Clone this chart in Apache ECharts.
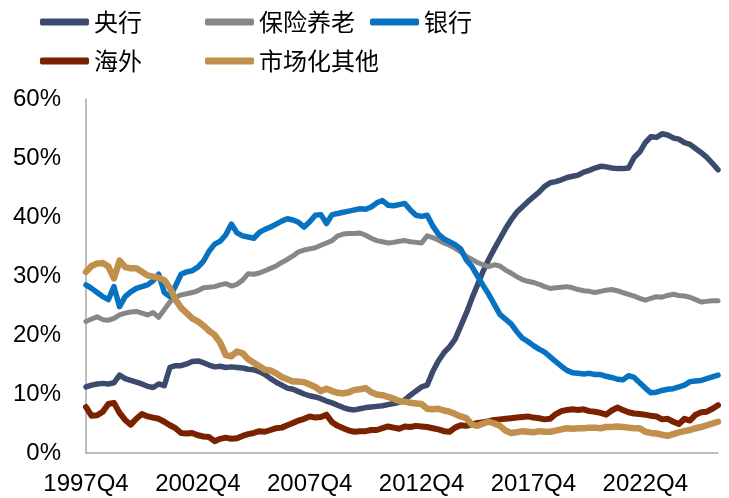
<!DOCTYPE html>
<html>
<head>
<meta charset="utf-8">
<title>持有结构</title>
<script src="https://cdn.jsdelivr.net/npm/echarts@6.0.0/dist/echarts.min.js"></script>
<style>
  html, body { margin: 0; padding: 0; background: #fff; }
  #chart { width: 729px; height: 498px; }
</style>
</head>
<body>
<div id="chart"></div>
<script>
// 季度序列：1997Q4 起
const quarters = []
for (let i = 0; i < 114; i++) {
  const q = (3 + i) % 4 + 1
  const y = 1997 + Math.floor((3 + i) / 4)
  quarters.push(y + 'Q' + q)
}

const yTicks = [0, 10, 20, 30, 40, 50, 60]

// 各类持有者占比（%）
const pboc = [
  11.2, 11.5, 11.7, 11.8, 11.7, 11.9, 13.2, 12.6, 12.3, 12.0,
  11.7, 11.3, 11.1, 11.7, 11.4, 14.5, 14.8, 14.8, 15.1, 15.5,
  15.6, 15.3, 14.9, 14.6, 14.7, 14.5, 14.6, 14.5, 14.4, 14.2,
  14.1, 13.8, 13.3, 12.6, 12.0, 11.5, 11.0, 10.8, 10.4, 10.0,
  9.7, 9.5, 9.2, 8.8, 8.5, 8.1, 7.7, 7.4, 7.3, 7.5,
  7.7, 7.8, 7.9, 8.0, 8.2, 8.4, 8.6, 9.0, 9.8, 10.5,
  11.2, 11.5, 13.8, 15.6, 17.0, 18.0, 19.3, 21.5, 23.7, 26.2,
  28.5, 30.8, 32.8, 34.6, 36.3, 38.0, 39.5, 40.8, 41.7, 42.6,
  43.4, 44.2, 45.2, 45.8, 46.0, 46.3, 46.7, 46.9, 47.1, 47.6,
  47.9, 48.3, 48.6, 48.5, 48.3, 48.2, 48.2, 48.3, 50.1, 51.0,
  52.6, 53.6, 53.5, 54.1, 53.9, 53.4, 53.2, 52.6, 52.3, 51.6,
  50.9, 50.1, 49.1, 48.0
]
const insurance = [
  22.3, 22.7, 23.1, 22.6, 22.5, 22.8, 23.4, 23.7, 23.9, 24.0,
  23.7, 23.4, 23.8, 23.0, 24.3, 25.6, 26.4, 26.8, 27.0, 27.2,
  27.5, 28.0, 28.1, 28.2, 28.5, 28.7, 28.3, 28.6, 29.3, 30.4,
  30.3, 30.5, 30.9, 31.3, 31.7, 32.3, 32.8, 33.4, 34.1, 34.4,
  34.6, 34.8, 35.2, 35.6, 36.0, 36.8, 37.1, 37.2, 37.2, 37.3,
  36.9, 36.4, 36.0, 35.8, 35.6, 35.7, 35.9, 36.0, 35.8, 35.7,
  35.6, 36.8, 36.5, 36.1, 35.6, 35.2, 34.7, 34.1, 33.3, 32.8,
  32.3, 31.9, 31.6, 31.9, 31.7, 31.0, 30.5, 29.9, 29.4, 29.1,
  28.9, 28.6, 28.2, 27.9, 28.0, 28.1, 28.2, 28.0, 27.7, 27.5,
  27.4, 27.2, 27.4, 27.6, 27.7, 27.5, 27.2, 26.9, 26.6, 26.2,
  25.9, 26.2, 26.5, 26.4, 26.7, 26.9, 26.7, 26.6, 26.4, 26.0,
  25.6, 25.7, 25.8, 25.8
]
const banks = [
  28.5, 27.9, 27.2, 26.5, 26.0, 28.2, 24.8, 26.5, 27.3, 27.9,
  28.2, 28.5, 29.2, 30.3, 27.2, 26.5, 28.3, 30.3, 30.7, 30.9,
  31.5, 32.5, 34.2, 35.4, 35.9, 37.0, 38.8, 37.3, 36.8, 36.6,
  36.4, 37.4, 37.9, 38.3, 38.8, 39.3, 39.7, 39.5, 39.1, 38.3,
  39.2, 40.3, 40.4, 38.9, 40.4, 40.6, 40.8, 41.0, 41.2, 41.4,
  41.3, 41.7, 42.4, 42.8, 42.0, 41.9, 42.1, 42.3, 41.2, 40.3,
  40.1, 40.3, 38.5, 37.1, 36.3, 35.8, 35.3, 34.6, 32.7, 31.6,
  30.0, 28.4, 26.9, 25.2, 23.5, 22.7, 21.9, 20.6, 19.5, 18.9,
  18.2, 17.6, 17.1, 16.3, 15.5, 14.7, 14.0, 13.6, 13.5, 13.4,
  13.5, 13.3, 13.3, 13.0, 12.8, 12.5, 12.4, 13.1, 12.8, 11.9,
  11.0, 10.2, 10.3, 10.6, 10.8, 10.9, 11.2, 11.5, 12.1, 12.2,
  12.3, 12.6, 12.9, 13.2
]
const overseas = [
  7.8, 6.3, 6.4, 7.0, 8.3, 8.5, 6.8, 5.6, 4.8, 5.8,
  6.6, 6.2, 6.0, 5.8, 5.3, 4.7, 4.2, 3.4, 3.3, 3.4,
  3.0, 2.8, 2.7, 2.0, 2.4, 2.6, 2.4, 2.5, 2.9, 3.2,
  3.4, 3.7, 3.6, 3.9, 4.2, 4.3, 4.7, 5.1, 5.5, 5.8,
  6.2, 6.0, 6.1, 6.5, 5.2, 4.6, 4.2, 3.8, 3.6, 3.7,
  3.7, 3.9, 3.9, 4.2, 4.5, 4.3, 4.1, 4.5, 4.4, 4.6,
  4.5, 4.4, 4.2, 4.0, 3.7, 3.6, 4.3, 4.7, 4.6, 4.8,
  5.1, 5.2, 5.4, 5.6, 5.7, 5.8, 5.9, 6.0, 6.1, 6.2,
  6.0, 5.9, 5.7, 5.8, 6.6, 7.1, 7.3, 7.4, 7.3, 7.4,
  7.1, 7.0, 6.8, 6.5, 7.2, 7.7, 7.3, 6.9, 6.7, 6.6,
  6.5, 6.3, 6.2, 5.7, 5.8, 5.3, 4.9, 5.8, 5.5, 6.5,
  6.9, 7.0, 7.5, 8.1
]
const others = [
  30.7, 31.7, 32.1, 32.2, 31.6, 29.6, 32.6, 31.5, 31.3, 31.3,
  30.7, 30.1, 29.9, 29.7, 29.3, 28.0, 26.0, 24.6, 23.7, 22.8,
  22.3, 21.6, 20.7, 20.0, 18.7, 16.6, 16.4, 17.2, 16.9, 15.9,
  15.3, 14.7, 14.1, 14.0, 13.5, 12.9, 12.5, 12.1, 12.1, 12.0,
  11.6, 11.2, 10.5, 10.9, 10.5, 10.2, 10.1, 10.3, 10.7, 10.8,
  11.0, 10.3, 9.9, 9.8, 9.5, 9.2, 8.8, 8.7, 8.5, 8.4,
  8.3, 7.5, 7.4, 7.5, 7.2, 7.0, 6.6, 6.2, 5.9, 4.8,
  4.6, 5.0, 5.3, 5.0, 4.6, 3.8, 3.4, 3.5, 3.7, 3.6,
  3.5, 3.7, 3.6, 3.6, 3.8, 4.0, 4.2, 4.1, 4.2, 4.2,
  4.3, 4.3, 4.2, 4.4, 4.4, 4.5, 4.4, 4.3, 4.2, 4.2,
  3.6, 3.4, 3.3, 3.1, 2.9, 3.2, 3.5, 3.7, 3.9, 4.2,
  4.4, 4.7, 5.0, 5.3
]

const seriesDefs = [
  { name: '央行', data: pboc, color: '#3C4A6E', width: 5.5 },
  { name: '保险养老', data: insurance, color: '#878787', width: 5 },
  { name: '银行', data: banks, color: '#0872C2', width: 5.5 },
  { name: '海外', data: overseas, color: '#7A2200', width: 6 },
  { name: '市场化其他', data: others, color: '#C0904C', width: 6.5 }
]

// 图例位置（两行三列）
const legendPos = [
  { left: 40, top: 10 },
  { left: 205, top: 10 },
  { left: 370, top: 10 },
  { left: 40, top: 49 },
  { left: 205, top: 49 }
]

const chart = echarts.init(document.getElementById('chart'))

const option = {
  animation: false,
  textStyle: { fontFamily: '"Liberation Sans", Arial, sans-serif' },
  legend: seriesDefs.map((s, i) => ({
    data: [s.name],
    left: legendPos[i].left,
    top: legendPos[i].top,
    padding: 0,
    icon: 'roundRect',
    itemWidth: 49,
    itemHeight: 7,
    textStyle: {
      fontSize: 24,
      color: '#000',
      fontFamily: '"Noto Sans CJK SC", sans-serif'
    }
  })),
  grid: {
    left: 86,
    right: 11,
    top: 99,
    bottom: 45
  },
  xAxis: {
    type: 'category',
    data: quarters,
    boundaryGap: false,
    axisLine: { lineStyle: { color: '#A6A6A6', width: 1.5 } },
    axisTick: { show: false },
    axisLabel: {
      interval: 19,
      margin: 19,
      fontSize: 24,
      color: '#000'
    },
    splitLine: { show: false }
  },
  yAxis: {
    type: 'value',
    min: yTicks[0],
    max: yTicks[yTicks.length - 1],
    interval: 10,
    axisLine: { show: true, lineStyle: { color: '#A6A6A6', width: 1.5 } },
    axisTick: { show: false },
    axisLabel: {
      formatter: '{value}%',
      margin: 25,
      fontSize: 24,
      color: '#000'
    },
    splitLine: { show: false }
  },
  series: seriesDefs.map(s => ({
    name: s.name,
    type: 'line',
    data: s.data,
    showSymbol: false,
    symbol: 'none',
    lineStyle: { color: s.color, width: s.width, cap: 'round', join: 'round' },
    itemStyle: { color: s.color }
  }))
}

chart.setOption(option)
</script>
</body>
</html>
